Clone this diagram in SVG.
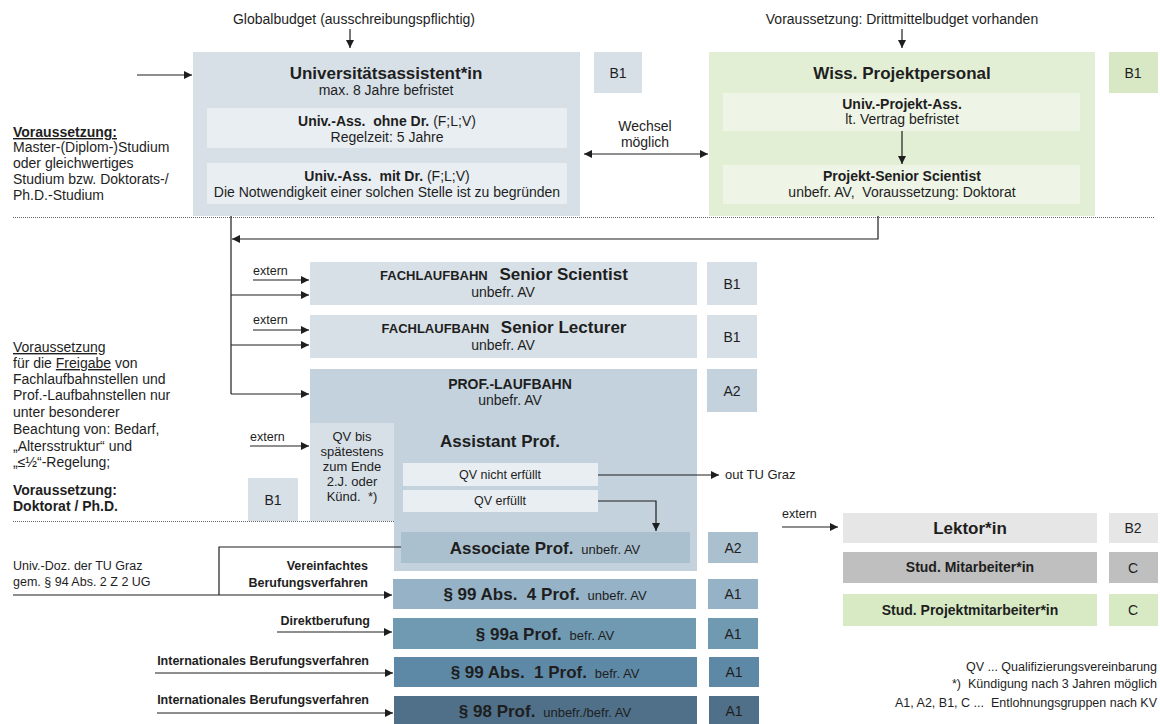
<svg xmlns="http://www.w3.org/2000/svg" width="1160" height="724" viewBox="0 0 1160 724">
<style>
text{font-family:"Liberation Sans",Arial,sans-serif;fill:#1e1e1e;font-size:14px}
.c{text-anchor:middle}
.e{text-anchor:end}
.b{font-weight:bold}
.t{font-size:17px;font-weight:bold}
.s{font-size:12.5px}
.q{font-size:13px}
.f{font-size:13px;font-weight:bold}
.g{font-size:14px}
.ln{stroke:#1e1e1e;stroke-width:1.2;fill:none}
.arr{marker-end:url(#ah)}
.dot{stroke:#666;stroke-width:1;stroke-dasharray:1 1;fill:none}
.c1{fill:#d7e0e7}
.in{fill:#e9eef2}
.gr{fill:#e2efd4}
.pr{fill:#c3d2dd}
</style>
<defs>
<marker id="ah" viewBox="0 0 10 10" refX="10" refY="5" markerWidth="8" markerHeight="8" markerUnits="userSpaceOnUse" orient="auto">
<path d="M0,0 L10,5 L0,10 Z" fill="#1e1e1e"/>
</marker>
<marker id="as" viewBox="0 0 10 10" refX="0" refY="5" markerWidth="8" markerHeight="8" markerUnits="userSpaceOnUse" orient="auto">
<path d="M10,0 L0,5 L10,10 Z" fill="#1e1e1e"/>
</marker>
</defs>

<g id="notes">
<text class="c" x="354" y="24">Globalbudget (ausschreibungspflichtig)</text>
<text class="c" x="902" y="24">Voraussetzung: Drittmittelbudget vorhanden</text>
<text x="13" y="137" class="b" text-decoration="underline">Voraussetzung:</text>
<text x="13" y="152">Master-(Diplom-)Studium</text>
<text x="13" y="168">oder gleichwertiges</text>
<text x="13" y="184">Studium bzw. Doktorats-/</text>
<text x="13" y="200">Ph.D.-Studium</text>
<text class="c" x="645" y="131">Wechsel</text>
<text class="c" x="645" y="147">möglich</text>
<text x="13" y="352" text-decoration="underline">Voraussetzung</text>
<text x="13" y="368">für die <tspan text-decoration="underline">Freigabe</tspan> von</text>
<text x="13" y="384">Fachlaufbahnstellen und</text>
<text x="13" y="400">Prof.-Laufbahnstellen nur</text>
<text x="13" y="417">unter besonderer</text>
<text x="13" y="434">Beachtung von: Bedarf,</text>
<text x="13" y="451">„Altersstruktur“ und</text>
<text x="13" y="467">„≤½“-Regelung;</text>
<text x="13" y="495" class="b">Voraussetzung:</text>
<text x="13" y="511" class="b">Doktorat / Ph.D.</text>
<text x="253" y="275" class="s">extern</text>
<text x="253" y="324" class="s">extern</text>
<text x="250" y="441" class="s">extern</text>
<text x="725" y="479" class="q">out TU Graz</text>
<text x="13" y="570" class="s">Univ.-Doz. der TU Graz</text>
<text x="13" y="586" class="s">gem. § 94 Abs. 2 Z 2 UG</text>
<text x="368" y="570" class="s b e">Vereinfachtes</text>
<text x="368" y="587" class="s b e">Berufungsverfahren</text>
<text x="370" y="625" class="s b e">Direktberufung</text>
<text x="369" y="665" class="s b e">Internationales Berufungsverfahren</text>
<text x="369" y="704" class="s b e">Internationales Berufungsverfahren</text>
<text x="782" y="518" class="s">extern</text>
<text x="1157" y="671" class="s e">QV ... Qualifizierungsvereinbarung</text>
<text x="1157" y="688" class="s e">*)&#160; Kündigung nach 3 Jahren möglich</text>
<text x="1157" y="707" class="s e">A1, A2, B1, C ...&#160; Entlohnungsgruppen nach KV</text>
</g>

<g id="separators">
<line class="dot" x1="13" y1="217.5" x2="1155" y2="217.5"/>
<line class="dot" x1="13" y1="521.5" x2="607" y2="521.5"/>
</g>

<g id="univ-ass">
<rect class="c1" x="193" y="52" width="387" height="164"/>
<text class="c t" x="386" y="79">Universitätsassistent*in</text>
<text class="c" x="386" y="95">max. 8 Jahre befristet</text>
<rect class="in" x="207" y="108" width="360" height="40"/>
<text class="c" x="387" y="126"><tspan class="b">Univ.-Ass.&#160; ohne Dr.</tspan> (F;L;V)</text>
<text class="c" x="387" y="142">Regelzeit: 5 Jahre</text>
<rect class="in" x="207" y="163" width="360" height="41"/>
<text class="c" x="387" y="181"><tspan class="b">Univ.-Ass.&#160; mit Dr.</tspan> (F;L;V)</text>
<text class="c" x="387" y="197">Die Notwendigkeit einer solchen Stelle ist zu begründen</text>
</g>
<g id="univ-ass-grade">
<rect class="c1" x="594" y="52" width="48" height="41"/>
<text class="c g" x="618" y="78">B1</text>
</g>

<g id="projektpersonal">
<rect class="gr" x="709" y="52" width="386" height="164"/>
<text class="c t" x="902" y="79">Wiss. Projektpersonal</text>
<rect fill="#eef5e6" x="723" y="93" width="357" height="38"/>
<text class="c b" x="902" y="109">Univ.-Projekt-Ass.</text>
<text class="c" x="902" y="124">lt. Vertrag befristet</text>
<rect fill="#eef5e6" x="723" y="165" width="357" height="39"/>
<text class="c b" x="902" y="181">Projekt-Senior Scientist</text>
<text class="c" x="902" y="197">unbefr. AV,&#160; Voraussetzung: Doktorat</text>
</g>
<g id="projekt-grade">
<rect fill="#d8e8c4" x="1109" y="52" width="49" height="41"/>
<text class="c g" x="1133" y="78">B1</text>
</g>

<g id="senior-scientist">
<rect class="c1" x="310" y="262" width="387" height="43"/>
<text class="c" x="504" y="280"><tspan class="f">FACHLAUFBAHN</tspan>&#160;&#160; <tspan class="t">Senior Scientist</tspan></text>
<text class="c" x="503" y="297">unbefr. AV</text>
<rect class="c1" x="707" y="262" width="50" height="43"/>
<text class="c g" x="732" y="289">B1</text>
</g>

<g id="senior-lecturer">
<rect class="c1" x="310" y="315" width="387" height="43"/>
<text class="c" x="504" y="333"><tspan class="f">FACHLAUFBAHN</tspan>&#160;&#160; <tspan class="t">Senior Lecturer</tspan></text>
<text class="c" x="503" y="350">unbefr. AV</text>
<rect class="c1" x="707" y="315" width="50" height="43"/>
<text class="c g" x="732" y="342">B1</text>
</g>

<g id="prof-laufbahn">
<path class="pr" d="M310,369 H697 V571 H394 V521 H310 Z"/>
<text class="c b" x="510" y="389">PROF.-LAUFBAHN</text>
<text class="c" x="510" y="405">unbefr. AV</text>
<rect class="pr" x="707" y="369" width="50" height="43"/>
<text class="c g" x="732" y="396">A2</text>
<rect class="c1" x="310" y="423" width="84" height="98"/>
<text class="c q" x="352" y="441">QV bis</text>
<text class="c q" x="352" y="456">spätestens</text>
<text class="c q" x="352" y="471">zum Ende</text>
<text class="c q" x="352" y="486">2.J. oder</text>
<text class="c q" x="352" y="501">Künd.&#160; *)</text>
<text class="t" x="440" y="447">Assistant Prof.</text>
<rect class="in" x="403" y="463" width="195" height="23"/>
<text class="c s" x="500" y="479">QV nicht erfüllt</text>
<rect class="in" x="403" y="490" width="195" height="22"/>
<text class="c s" x="500" y="505">QV erfüllt</text>
<rect class="c1" x="248" y="478" width="50" height="43"/>
<text class="c g" x="273" y="505">B1</text>
</g>

<g id="associate-prof">
<rect fill="#aac0cf" x="401" y="532" width="289" height="31"/>
<text class="c" x="545" y="554"><tspan class="t">Associate Prof.</tspan>&#160; <tspan class="q">unbefr. AV</tspan></text>
<rect fill="#aac0cf" x="708" y="532" width="50" height="31"/>
<text class="c g" x="733" y="553">A2</text>
</g>

<g id="prof-99-4">
<rect fill="#95b2c6" x="393" y="579" width="303" height="30"/>
<text class="c" x="545" y="600"><tspan class="t">§ 99 Abs.&#160; 4 Prof.</tspan>&#160; <tspan class="q">unbefr. AV</tspan></text>
<rect fill="#95b2c6" x="708" y="579" width="50" height="30"/>
<text class="c g" x="733" y="599">A1</text>
</g>

<g id="prof-99a">
<rect fill="#7099b2" x="393" y="618" width="303" height="31"/>
<text class="c" x="545" y="640"><tspan class="t">§ 99a Prof.</tspan>&#160; <tspan class="q">befr. AV</tspan></text>
<rect fill="#7099b2" x="708" y="618" width="50" height="31"/>
<text class="c g" x="733" y="639">A1</text>
</g>

<g id="prof-99-1">
<rect fill="#5e89a6" x="394" y="657" width="303" height="30"/>
<text class="c" x="545" y="678"><tspan class="t">§ 99 Abs.&#160; 1 Prof.</tspan>&#160; <tspan class="q">befr. AV</tspan></text>
<rect fill="#5e89a6" x="709" y="657" width="50" height="30"/>
<text class="c g" x="734" y="677">A1</text>
</g>

<g id="prof-98">
<rect fill="#4f7088" x="394" y="696" width="303" height="28"/>
<text class="c" x="545" y="717"><tspan class="t">§ 98 Prof.</tspan>&#160; <tspan class="q">unbefr./befr. AV</tspan></text>
<rect fill="#4f7088" x="709" y="696" width="50" height="28"/>
<text class="c g" x="734" y="716">A1</text>
</g>

<g id="lektor">
<rect fill="#e6e6e6" x="843" y="513" width="254" height="30"/>
<text class="c t" x="970" y="534">Lektor*in</text>
<rect fill="#e6e6e6" x="1109" y="513" width="49" height="30"/>
<text class="c g" x="1133" y="533">B2</text>
</g>

<g id="stud-mitarbeiter">
<rect fill="#bfbfbf" x="843" y="552" width="254" height="31"/>
<text class="c b" x="970" y="572">Stud. Mitarbeiter*in</text>
<rect fill="#bfbfbf" x="1109" y="552" width="49" height="31"/>
<text class="c g" x="1133" y="573">C</text>
</g>

<g id="stud-projektmitarbeiter">
<rect fill="#d8eac4" x="843" y="594" width="254" height="32"/>
<text class="c b" x="970" y="615">Stud. Projektmitarbeiter*in</text>
<rect fill="#d8eac4" x="1109" y="594" width="49" height="32"/>
<text class="c g" x="1133" y="615">C</text>
</g>

<g id="connectors">
<line class="ln arr" x1="350" y1="29" x2="350" y2="48"/>
<line class="ln arr" x1="902" y1="29" x2="902" y2="48"/>
<line class="ln arr" x1="137" y1="75" x2="192" y2="75"/>
<line class="ln arr" x1="584" y1="154" x2="708" y2="154" marker-start="url(#as)"/>
<line class="ln arr" x1="902" y1="131" x2="902" y2="164"/>
<path class="ln arr" d="M878,216 V239 H232"/>
<path class="ln" d="M231,216 V394"/>
<line class="ln arr" x1="231" y1="295" x2="309" y2="295"/>
<line class="ln arr" x1="231" y1="345" x2="309" y2="345"/>
<line class="ln arr" x1="231" y1="394" x2="309" y2="394"/>
<line class="ln arr" x1="253" y1="280" x2="309" y2="280"/>
<line class="ln arr" x1="253" y1="330" x2="309" y2="330"/>
<line class="ln arr" x1="250" y1="446" x2="309" y2="446"/>
<line class="ln arr" x1="598" y1="475" x2="719" y2="475"/>
<path class="ln arr" d="M598,501 H656 V531"/>
<line class="ln arr" x1="13" y1="595" x2="392" y2="595"/>
<path class="ln" d="M219,595 V547 H401"/>
<line class="ln arr" x1="277" y1="632" x2="392" y2="632"/>
<line class="ln arr" x1="155" y1="673" x2="393" y2="673"/>
<line class="ln arr" x1="157" y1="713" x2="393" y2="713"/>
<line class="ln arr" x1="782" y1="527" x2="838" y2="527"/>
</g>
</svg>
